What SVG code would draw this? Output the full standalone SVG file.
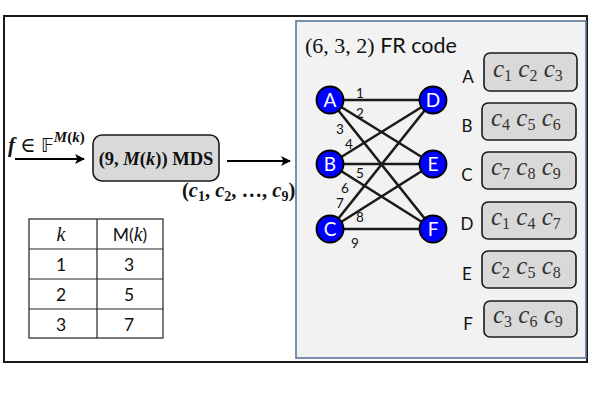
<svg xmlns="http://www.w3.org/2000/svg" width="592" height="412" viewBox="0 0 592 412">
<defs>
<marker id="arr" viewBox="0 0 10 10" refX="9" refY="5" markerWidth="5" markerHeight="5" orient="auto" markerUnits="strokeWidth">
<path d="M0,0 L10,5 L0,10 L2.5,5 Z" fill="#000"/>
</marker>
</defs>
<style>
.sans{font-family:Lato,"Liberation Sans",sans-serif;}
.serif{font-family:"Liberation Serif","DejaVu Serif",serif;}
.node circle{fill:#0000ff;stroke:#000;stroke-width:1.8;}
.node text{fill:#fff;font-family:Lato,"Liberation Sans",sans-serif;font-size:19px;text-anchor:middle;}
.edge{stroke:#1a1a1a;stroke-width:2.6;}
.elab{font-family:Lato,"Liberation Sans",sans-serif;font-size:13.5px;fill:#111;text-anchor:middle;}
.blk rect{fill:#d9d9d9;stroke:#1a1a1a;stroke-width:1.6;}
.blab{font-family:Lato,"Liberation Sans",sans-serif;font-size:17px;fill:#111;text-anchor:middle;}
.cm{font-family:"Liberation Serif","DejaVu Serif",serif;font-size:25px;fill:#333;}
.cm .v{font-style:italic;}
.cm .s{font-size:16px;}
.tbl line,.tbl rect{stroke:#222;stroke-width:1.2;fill:none;}
.tt{font-family:Lato,"Liberation Sans",sans-serif;font-size:17.5px;fill:#111;text-anchor:middle;}
</style>
<rect x="4" y="16" width="583" height="346" fill="#fff" stroke="#1a1a1a" stroke-width="2"/>
<rect x="296" y="21" width="290" height="337" fill="#f2f2f2" stroke="#5a7596" stroke-width="1.6"/>
<text x="305" y="53" fill="#111"><tspan class="serif" font-size="22">(6, 3, 2)</tspan><tspan class="sans" font-size="21.5"> FR code</tspan></text>

<g id="connectors">
<line class="edge" x1="330" y1="100" x2="433" y2="100"/>
<line class="edge" x1="330" y1="100" x2="433" y2="164"/>
<line class="edge" x1="330" y1="100" x2="433" y2="229"/>
<line class="edge" x1="330" y1="164" x2="433" y2="100"/>
<line class="edge" x1="330" y1="164" x2="433" y2="164"/>
<line class="edge" x1="330" y1="164" x2="433" y2="229"/>
<line class="edge" x1="330" y1="229" x2="433" y2="100"/>
<line class="edge" x1="330" y1="229" x2="433" y2="164"/>
<line class="edge" x1="330" y1="229" x2="433" y2="229"/>
<line x1="15" y1="159" x2="84" y2="159" stroke="#000" stroke-width="2" marker-end="url(#arr)"/>
<line x1="227" y1="161" x2="290" y2="161" stroke="#000" stroke-width="2" marker-end="url(#arr)"/>
</g>
<g id="edge-labels">
<text class="elab" x="360" y="98">1</text>
<text class="elab" x="360" y="118">2</text>
<text class="elab" x="340" y="134">3</text>
<text class="elab" x="349" y="149">4</text>
<text class="elab" x="360" y="178">5</text>
<text class="elab" x="345" y="193">6</text>
<text class="elab" x="340" y="208">7</text>
<text class="elab" x="360" y="222">8</text>
<text class="elab" x="355" y="248">9</text>
</g>

<g id="node-A" class="node"><circle cx="330" cy="100" r="13.5"/><text x="330" y="107">A</text></g>
<g id="node-B" class="node"><circle cx="330" cy="164" r="13.5"/><text x="330" y="171">B</text></g>
<g id="node-C" class="node"><circle cx="330" cy="229" r="13.5"/><text x="330" y="236">C</text></g>
<g id="node-D" class="node"><circle cx="433" cy="100" r="13.5"/><text x="433" y="107">D</text></g>
<g id="node-E" class="node"><circle cx="433" cy="164" r="13.5"/><text x="433" y="171">E</text></g>
<g id="node-F" class="node"><circle cx="433" cy="229" r="13.5"/><text x="433" y="236">F</text></g>

<g id="block-A" class="blk"><text class="blab" x="468" y="83">A</text><rect x="484" y="53" width="93" height="38" rx="6"/>
<text class="cm" x="493" y="77"><tspan class="v">c</tspan><tspan class="s" dy="4">1</tspan><tspan dy="-4"> </tspan><tspan class="v">c</tspan><tspan class="s" dy="4">2</tspan><tspan dy="-4"> </tspan><tspan class="v">c</tspan><tspan class="s" dy="4">3</tspan></text></g>
<g id="block-B" class="blk"><text class="blab" x="467" y="132">B</text><rect x="482" y="103" width="94" height="37" rx="6"/>
<text class="cm" x="491" y="126"><tspan class="v">c</tspan><tspan class="s" dy="4">4</tspan><tspan dy="-4"> </tspan><tspan class="v">c</tspan><tspan class="s" dy="4">5</tspan><tspan dy="-4"> </tspan><tspan class="v">c</tspan><tspan class="s" dy="4">6</tspan></text></g>
<g id="block-C" class="blk"><text class="blab" x="467" y="181">C</text><rect x="482" y="152" width="94" height="37" rx="6"/>
<text class="cm" x="491" y="175"><tspan class="v">c</tspan><tspan class="s" dy="4">7</tspan><tspan dy="-4"> </tspan><tspan class="v">c</tspan><tspan class="s" dy="4">8</tspan><tspan dy="-4"> </tspan><tspan class="v">c</tspan><tspan class="s" dy="4">9</tspan></text></g>
<g id="block-D" class="blk"><text class="blab" x="467" y="230">D</text><rect x="482" y="202" width="94" height="37" rx="6"/>
<text class="cm" x="491" y="225"><tspan class="v">c</tspan><tspan class="s" dy="4">1</tspan><tspan dy="-4"> </tspan><tspan class="v">c</tspan><tspan class="s" dy="4">4</tspan><tspan dy="-4"> </tspan><tspan class="v">c</tspan><tspan class="s" dy="4">7</tspan></text></g>
<g id="block-E" class="blk"><text class="blab" x="467" y="280">E</text><rect x="482" y="251" width="94" height="37" rx="6"/>
<text class="cm" x="491" y="274"><tspan class="v">c</tspan><tspan class="s" dy="4">2</tspan><tspan dy="-4"> </tspan><tspan class="v">c</tspan><tspan class="s" dy="4">5</tspan><tspan dy="-4"> </tspan><tspan class="v">c</tspan><tspan class="s" dy="4">8</tspan></text></g>
<g id="block-F" class="blk"><text class="blab" x="468" y="330">F</text><rect x="484" y="301" width="93" height="36" rx="6"/>
<text class="cm" x="493" y="323"><tspan class="v">c</tspan><tspan class="s" dy="4">3</tspan><tspan dy="-4"> </tspan><tspan class="v">c</tspan><tspan class="s" dy="4">6</tspan><tspan dy="-4"> </tspan><tspan class="v">c</tspan><tspan class="s" dy="4">9</tspan></text></g>

<g id="mds" class="blk">
<rect x="93" y="135" width="126" height="46" rx="9"/>
<text class="serif" x="156" y="165" font-size="18.5" font-weight="bold" text-anchor="middle" fill="#111">(9, <tspan font-style="italic">M</tspan>(<tspan font-style="italic">k</tspan>)) MDS</text>
</g>
<text id="input-label" class="serif" x="8" y="152" font-size="21" fill="#111"><tspan font-weight="bold" font-style="italic">f</tspan> ∈ <tspan font-family="DejaVu Sans, sans-serif" font-size="19">𝔽</tspan><tspan font-size="15" dy="-10" font-weight="bold" font-style="italic">M</tspan><tspan font-size="15" font-weight="bold">(</tspan><tspan font-size="15" font-weight="bold" font-style="italic">k</tspan><tspan font-size="15" font-weight="bold">)</tspan></text>
<text id="output-label" class="serif" x="182" y="197" font-size="20.5" font-weight="bold" fill="#111">(<tspan font-style="italic">c</tspan><tspan font-size="14" dy="4">1</tspan><tspan dy="-4">, </tspan><tspan font-style="italic">c</tspan><tspan font-size="14" dy="4">2</tspan><tspan dy="-4">, …, </tspan><tspan font-style="italic">c</tspan><tspan font-size="14" dy="4">9</tspan><tspan dy="-4">)</tspan></text>

<g id="table" class="tbl">
<rect x="29" y="219" width="134" height="119"/>
<line x1="97" y1="219" x2="97" y2="338"/>
<line x1="29" y1="249" x2="163" y2="249"/>
<line x1="29" y1="279" x2="163" y2="279"/>
<line x1="29" y1="309" x2="163" y2="309"/>
<text class="serif" x="61" y="241" font-size="20" font-style="italic" text-anchor="middle" fill="#111">k</text>
<text class="tt" x="130" y="241">M(<tspan class="serif" font-style="italic" font-size="20">k</tspan>)</text>
<text class="tt" x="61" y="271">1</text><text class="tt" x="129" y="271">3</text>
<text class="tt" x="61" y="301">2</text><text class="tt" x="129" y="301">5</text>
<text class="tt" x="61" y="331">3</text><text class="tt" x="129" y="331">7</text>
</g>
</svg>
